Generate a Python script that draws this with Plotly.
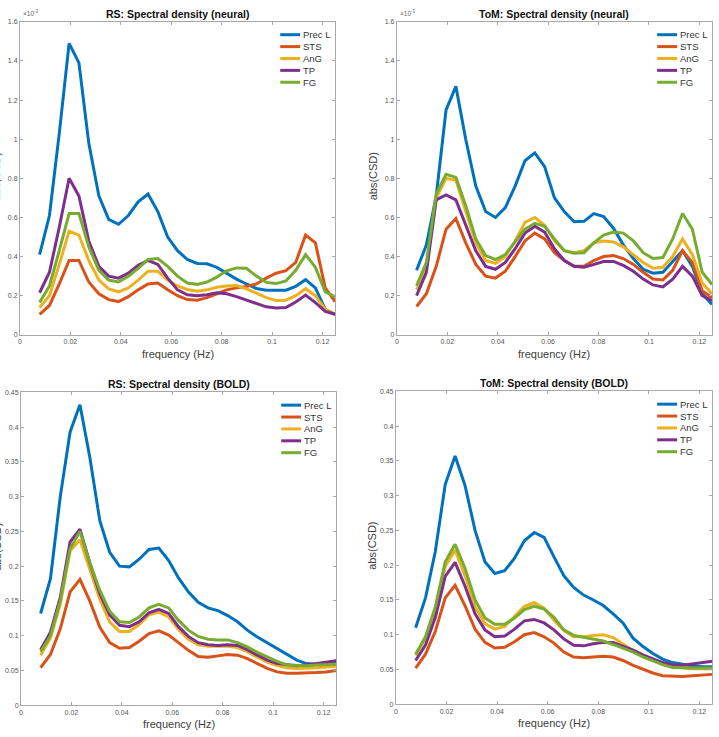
import plotly.graph_objects as go

W, H = 719, 737

freq = [0.0078, 0.0117, 0.0156, 0.0195, 0.0234, 0.0273, 0.0313, 0.0352, 0.0391, 0.0430,
        0.0469, 0.0508, 0.0547, 0.0586, 0.0625, 0.0664, 0.0703, 0.0742, 0.0781, 0.0820,
        0.0859, 0.0898, 0.0938, 0.0977, 0.1016, 0.1055, 0.1094, 0.1133, 0.1172, 0.1211, 0.1250]

regions = ["Prec L", "STS", "AnG", "TP", "FG"]
colors = ["#0072BD", "#D95319", "#EDB120", "#7E2F8E", "#77AC30"]

# RS neural (x 1e-3)
rs_neural_precl = [0.41, 0.61, 1.03, 1.49, 1.39, 0.98, 0.71, 0.59, 0.565, 0.61, 0.68, 0.72, 0.63, 0.50, 0.43, 0.385, 0.365, 0.363, 0.345, 0.315, 0.285, 0.26, 0.237, 0.228, 0.227, 0.228, 0.248, 0.282, 0.24, 0.13, 0.105]
rs_neural_sts = [0.105, 0.15, 0.26, 0.38, 0.38, 0.27, 0.21, 0.18, 0.17, 0.195, 0.23, 0.26, 0.265, 0.23, 0.20, 0.18, 0.177, 0.19, 0.21, 0.23, 0.24, 0.247, 0.26, 0.29, 0.315, 0.328, 0.37, 0.51, 0.47, 0.24, 0.17]
rs_neural_ang = [0.14, 0.2, 0.36, 0.53, 0.51, 0.38, 0.28, 0.235, 0.22, 0.24, 0.28, 0.325, 0.325, 0.28, 0.25, 0.232, 0.223, 0.23, 0.243, 0.25, 0.252, 0.235, 0.213, 0.19, 0.176, 0.177, 0.2, 0.236, 0.2, 0.13, 0.105]
rs_neural_tp = [0.215, 0.32, 0.55, 0.8, 0.71, 0.48, 0.35, 0.3, 0.29, 0.315, 0.355, 0.38, 0.36, 0.29, 0.23, 0.205, 0.2, 0.205, 0.215, 0.21, 0.195, 0.178, 0.16, 0.143, 0.137, 0.14, 0.168, 0.203, 0.165, 0.12, 0.105]
rs_neural_fg = [0.165, 0.25, 0.43, 0.62, 0.62, 0.45, 0.33, 0.28, 0.27, 0.3, 0.34, 0.385, 0.39, 0.35, 0.30, 0.265, 0.258, 0.27, 0.295, 0.327, 0.342, 0.34, 0.30, 0.268, 0.262, 0.275, 0.33, 0.41, 0.345, 0.22, 0.195]

# ToM neural (x 1e-3)
tom_neural_precl = [0.33, 0.46, 0.71, 1.15, 1.27, 1.0, 0.76, 0.63, 0.6, 0.65, 0.76, 0.89, 0.93, 0.86, 0.70, 0.63, 0.578, 0.58, 0.62, 0.605, 0.545, 0.46, 0.39, 0.335, 0.315, 0.32, 0.375, 0.43, 0.35, 0.21, 0.155]
tom_neural_sts = [0.145, 0.21, 0.35, 0.54, 0.595, 0.47, 0.36, 0.3, 0.29, 0.325, 0.40, 0.48, 0.52, 0.49, 0.42, 0.38, 0.35, 0.35, 0.38, 0.40, 0.405, 0.39, 0.36, 0.32, 0.285, 0.28, 0.33, 0.43, 0.37, 0.225, 0.19]
tom_neural_ang = [0.23, 0.35, 0.70, 0.80, 0.79, 0.63, 0.47, 0.38, 0.365, 0.40, 0.48, 0.575, 0.60, 0.56, 0.48, 0.43, 0.42, 0.43, 0.47, 0.48, 0.475, 0.45, 0.41, 0.37, 0.34, 0.345, 0.40, 0.49, 0.41, 0.265, 0.21]
tom_neural_tp = [0.2, 0.32, 0.69, 0.715, 0.69, 0.56, 0.43, 0.35, 0.335, 0.37, 0.44, 0.52, 0.555, 0.525, 0.44, 0.38, 0.35, 0.345, 0.36, 0.375, 0.375, 0.355, 0.325, 0.285, 0.255, 0.245, 0.285, 0.35, 0.3, 0.2, 0.175]
tom_neural_fg = [0.25, 0.37, 0.72, 0.82, 0.805, 0.66, 0.49, 0.405, 0.385, 0.41, 0.475, 0.54, 0.57, 0.555, 0.49, 0.43, 0.417, 0.42, 0.47, 0.51, 0.525, 0.52, 0.48, 0.42, 0.39, 0.395, 0.49, 0.62, 0.54, 0.32, 0.257]

# RS BOLD
rs_bold_precl = [0.132, 0.182, 0.30, 0.393, 0.432, 0.357, 0.265, 0.22, 0.2, 0.199, 0.21, 0.224, 0.226, 0.208, 0.183, 0.163, 0.148, 0.14, 0.136, 0.129, 0.12, 0.108, 0.098, 0.09, 0.081, 0.073, 0.065, 0.06, 0.059, 0.06, 0.061]
rs_bold_sts = [0.054, 0.073, 0.11, 0.163, 0.181, 0.15, 0.112, 0.09, 0.082, 0.083, 0.092, 0.103, 0.107, 0.101, 0.09, 0.079, 0.07, 0.069, 0.071, 0.073, 0.072, 0.067, 0.06, 0.053, 0.048, 0.046, 0.046, 0.046, 0.047, 0.048, 0.05]
rs_bold_ang = [0.072, 0.097, 0.145, 0.222, 0.238, 0.195, 0.152, 0.12, 0.106, 0.106, 0.116, 0.13, 0.134, 0.127, 0.109, 0.095, 0.087, 0.085, 0.085, 0.085, 0.083, 0.077, 0.069, 0.062, 0.057, 0.054, 0.053, 0.053, 0.054, 0.055, 0.056]
rs_bold_tp = [0.08, 0.105, 0.155, 0.235, 0.253, 0.205, 0.16, 0.13, 0.115, 0.113, 0.12, 0.133, 0.138, 0.132, 0.113, 0.099, 0.09, 0.087, 0.086, 0.087, 0.086, 0.08, 0.072, 0.065, 0.06, 0.058, 0.057, 0.058, 0.06, 0.062, 0.064]
rs_bold_fg = [0.077, 0.1, 0.15, 0.225, 0.25, 0.205, 0.165, 0.135, 0.12, 0.119, 0.127, 0.14, 0.145, 0.14, 0.122, 0.108, 0.099, 0.095, 0.094, 0.094, 0.09, 0.084, 0.076, 0.069, 0.063, 0.058, 0.057, 0.057, 0.058, 0.058, 0.059]

# ToM BOLD
tom_bold_precl = [0.11, 0.153, 0.22, 0.316, 0.357, 0.315, 0.25, 0.205, 0.188, 0.192, 0.21, 0.235, 0.247, 0.24, 0.212, 0.185, 0.168, 0.157, 0.15, 0.142, 0.13, 0.117, 0.095, 0.083, 0.073, 0.065, 0.06, 0.057, 0.055, 0.054, 0.054]
tom_bold_sts = [0.052, 0.072, 0.105, 0.153, 0.171, 0.142, 0.108, 0.089, 0.081, 0.082, 0.09, 0.1, 0.103, 0.097, 0.088, 0.075, 0.068, 0.067, 0.068, 0.069, 0.068, 0.063, 0.056, 0.05, 0.045, 0.041, 0.04, 0.04, 0.041, 0.042, 0.043]
tom_bold_ang = [0.07, 0.095, 0.137, 0.198, 0.222, 0.185, 0.14, 0.116, 0.108, 0.112, 0.126, 0.141, 0.146, 0.138, 0.121, 0.106, 0.097, 0.097, 0.099, 0.1, 0.096, 0.087, 0.077, 0.068, 0.063, 0.057, 0.054, 0.052, 0.051, 0.051, 0.051]
tom_bold_tp = [0.063, 0.085, 0.125, 0.184, 0.204, 0.17, 0.13, 0.107, 0.097, 0.098, 0.108, 0.12, 0.122, 0.117, 0.107, 0.094, 0.085, 0.084, 0.087, 0.089, 0.089, 0.084, 0.078, 0.071, 0.066, 0.06, 0.057, 0.056, 0.058, 0.06, 0.062]
tom_bold_fg = [0.072, 0.097, 0.14, 0.205, 0.23, 0.196, 0.15, 0.124, 0.115, 0.115, 0.124, 0.136, 0.141, 0.137, 0.125, 0.107, 0.099, 0.096, 0.093, 0.091, 0.086, 0.081, 0.075, 0.068, 0.062, 0.057, 0.053, 0.052, 0.052, 0.052, 0.052]

x_ticks = [0, 0.02, 0.04, 0.06, 0.08, 0.1, 0.12]
neural_ticks = [0, 0.2, 0.4, 0.6, 0.8, 1, 1.2, 1.4, 1.6]
bold_ticks = [0, 0.05, 0.1, 0.15, 0.2, 0.25, 0.3, 0.35, 0.4, 0.45]

panels = [
    dict(title="RS: Spectral density (neural)", series=[rs_neural_precl, rs_neural_sts, rs_neural_ang, rs_neural_tp, rs_neural_fg],
         yrange=[0, 1.6], yticks=neural_ticks, box=(18, 334, 18, 334), exp=True),
    dict(title="ToM: Spectral density (neural)", series=[tom_neural_precl, tom_neural_sts, tom_neural_ang, tom_neural_tp, tom_neural_fg],
         yrange=[0, 1.6], yticks=neural_ticks, box=(396, 712, 18, 334), exp=True),
    dict(title="RS: Spectral density (BOLD)", series=[rs_bold_precl, rs_bold_sts, rs_bold_ang, rs_bold_tp, rs_bold_fg],
         yrange=[0, 0.45], yticks=bold_ticks, box=(19, 335, 392, 708), exp=False),
    dict(title="ToM: Spectral density (BOLD)", series=[tom_bold_precl, tom_bold_sts, tom_bold_ang, tom_bold_tp, tom_bold_fg],
         yrange=[0, 0.45], yticks=bold_ticks, box=(395, 712, 391, 707), exp=False),
]

FONT = "Liberation Sans, Arial, sans-serif"
AXC = "#a8a8a8"
TXT = "#404040"

fig = go.Figure()
annotations = []
shapes = []

def px(x):
    return x / W

def py(y):
    return 1 - y / H

for i, p in enumerate(panels):
    n = "" if i == 0 else str(i + 1)
    x0, x1, y0, y1 = p["box"]
    for name, col, ys in zip(regions, colors, p["series"]):
        fig.add_trace(go.Scatter(x=freq, y=ys, mode="lines", name=name,
                                 line=dict(color=col, width=3), showlegend=False,
                                 xaxis="x" + n, yaxis="y" + n))
    common = dict(showline=True, linecolor=AXC, linewidth=1, mirror="ticks", ticks="inside",
                  ticklen=3, tickcolor=AXC, showgrid=False, zeroline=False,
                  tickfont=dict(family=FONT, size=7, color="#555555"))
    fig.layout["xaxis" + n] = dict(domain=[px(x0), px(x1)], range=[0, 0.125], anchor="y" + n,
                                   tickvals=x_ticks, ticktext=[f"{t:g}" for t in x_ticks], **common)
    fig.layout["yaxis" + n] = dict(domain=[py(y1), py(y0)], range=p["yrange"], anchor="x" + n,
                                   tickvals=p["yticks"], ticktext=[f"{t:g}" for t in p["yticks"]], **common)
    xc = (x0 + x1) / 2
    annotations.append(dict(text="<b>" + p["title"] + "</b>", x=px(xc), y=py(y0 - 8), xref="paper", yref="paper",
                            showarrow=False, xanchor="center", yanchor="middle",
                            font=dict(family=FONT, size=10.5, color="#111111")))
    annotations.append(dict(text="frequency (Hz)", x=px(xc), y=py(y1 + 19), xref="paper", yref="paper",
                            showarrow=False, xanchor="center", yanchor="middle",
                            font=dict(family=FONT, size=11, color=TXT)))
    annotations.append(dict(text="abs(CSD)", x=px(x0 - 24), y=py((y0 + y1) / 2 - 2), xref="paper", yref="paper",
                            showarrow=False, xanchor="center", yanchor="middle", textangle=-90,
                            font=dict(family=FONT, size=11, color=TXT)))
    if p["exp"]:
        annotations.append(dict(text="×10<sup>-3</sup>", x=px(x0 + 1), y=py(y0 - 3), xref="paper", yref="paper",
                                showarrow=False, xanchor="left", yanchor="bottom",
                                font=dict(family=FONT, size=6.5, color="#666666")))
    # legend
    lx0 = x1 - 55
    ly = y0 + 13
    for j, (name, col) in enumerate(zip(regions, colors)):
        yy = ly + 12 * j
        shapes.append(dict(type="line", xref="paper", yref="paper", x0=px(lx0), x1=px(lx0 + 20),
                           y0=py(yy), y1=py(yy), line=dict(color=col, width=3)))
        annotations.append(dict(text=name, x=px(lx0 + 21), y=py(yy), xref="paper", yref="paper",
                                showarrow=False, xanchor="left", yanchor="middle",
                                font=dict(family=FONT, size=9.5, color="#333333")))

fig.update_layout(width=W, height=H, margin=dict(l=0, r=0, t=0, b=0),
                  paper_bgcolor="white", plot_bgcolor="white",
                  annotations=annotations, shapes=shapes, showlegend=False)

fig.write_html("out.html")
